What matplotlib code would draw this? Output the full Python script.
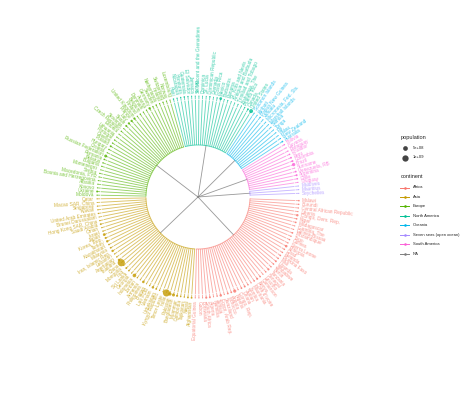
import numpy as np
import matplotlib
matplotlib.use("Agg")
import matplotlib.pyplot as plt
from matplotlib.collections import LineCollection

plt.rcParams["font.family"] = ["Liberation Sans", "DejaVu Sans"]

# countries per continent, ordered as they appear counter-clockwise
seven_seas = ["Seychelles", "Mauritius", "Maldives"]
seven_seas_pop = [0.09, 1.26, 0.4]

south_america = ["Uruguay", "Chile", "Argentina", "Venezuela, RB", "Suriname", "Brazil",
                 "Colombia", "Peru", "Ecuador", "Paraguay", "Guyana", "Bolivia"]
south_america_pop = [3.4, 17.8, 43.4, 31.0, 0.56, 205.0, 48.0, 31.0, 16.0, 6.6, 0.77, 10.7]

oceania = ["Australia", "New Zealand", "Palau", "Fiji", "Tonga", "Samoa", "Marshall Islands",
           "Micronesia, Fed. Sts.", "Vanuatu", "Papua New Guinea", "Kiribati", "Solomon Islands"]
oceania_pop = [23.8, 4.6, 0.02, 0.89, 0.1, 0.19, 0.05, 0.1, 0.26, 7.9, 0.11, 0.59]

north_america = ["United States", "Canada", "Puerto Rico", "Bahamas, The", "Trinidad and Tobago",
                 "Antigua and Barbuda", "St. Kitts and Nevis", "Panama", "Barbados", "Mexico",
                 "Costa Rica", "Grenada", "Dominican Republic", "St. Lucia", "Dominica",
                 "St. Vincent and the Grenadines", "Belize", "Jamaica", "El Salvador",
                 "Guatemala", "Honduras", "Nicaragua", "Haiti"]
north_america_pop = [321.0, 36.0, 3.5, 0.39, 1.36, 0.09, 0.05, 3.9, 0.28, 127.0, 4.8, 0.11,
                     10.5, 0.18, 0.07, 0.11, 0.36, 2.8, 6.3, 16.3, 8.1, 6.1, 10.7]

europe = ["Luxembourg", "Norway", "Switzerland", "Ireland", "Netherlands", "Sweden", "Germany",
          "Austria", "Denmark", "Belgium", "Finland", "United Kingdom", "France", "Italy",
          "Spain", "Slovenia", "Czech Republic", "Estonia", "Lithuania", "Portugal", "Greece",
          "Poland", "Hungary", "Croatia", "Russian Federation", "Romania", "Belarus",
          "Bulgaria", "Montenegro", "Serbia", "Macedonia, FYR", "Bosnia and Herzegovina",
          "Albania", "Kosovo", "Ukraine", "Moldova"]
europe_pop = [0.57, 5.2, 8.3, 4.6, 16.9, 9.8, 81.7, 8.6, 5.7, 11.3, 5.5, 65.0, 66.6, 60.7,
              46.4, 2.06, 10.5, 1.3, 2.9, 10.4, 10.8, 38.0, 9.8, 4.2, 144.0, 19.8, 9.5,
              7.2, 0.62, 7.1, 2.1, 3.5, 2.9, 1.8, 45.0, 3.6]

asia = ["Qatar", "Macao SAR, China", "Singapore", "Kuwait", "United Arab Emirates",
        "Brunei Darussalam", "Hong Kong SAR, China", "Saudi Arabia", "Oman", "Israel", "Japan",
        "Korea, Rep.", "Turkey", "Kazakhstan", "Malaysia", "Iran, Islamic Rep.", "Lebanon",
        "Azerbaijan", "Thailand", "China", "Mongolia", "Iraq", "Sri Lanka", "Georgia",
        "Indonesia", "Jordan", "Armenia", "Philippines", "Bhutan", "Lao PDR", "Vietnam",
        "Uzbekistan", "Kyrgyz Republic", "Timor-Leste", "India", "Pakistan", "Bangladesh",
        "Myanmar", "Cambodia", "Tajikistan", "Nepal", "Afghanistan"]
asia_pop = [2.5, 0.6, 5.5, 3.9, 9.2, 0.42, 7.3, 31.5, 4.5, 8.4, 127.0, 50.6, 78.7, 17.5,
            30.3, 79.1, 5.9, 9.6, 68.0, 1371.0, 3.0, 36.4, 21.0, 3.7, 258.0, 9.2, 3.0,
            101.7, 0.77, 6.8, 91.7, 31.3, 5.96, 1.24, 1311.0, 189.0, 161.0, 53.9, 15.6,
            8.5, 28.5, 32.5]

africa = ["Equatorial Guinea", "Gabon", "Botswana", "South Africa", "Algeria", "Namibia",
          "Tunisia", "Egypt, Arab Rep.", "Swaziland", "Morocco", "Angola", "Nigeria",
          "Congo, Rep.", "Ghana", "Sudan", "Zambia", "Mauritania", "Cote d'Ivoire", "Kenya",
          "Cameroon", "Lesotho", "Senegal", "Tanzania", "Benin", "Zimbabwe", "Uganda", "Mali",
          "Burkina Faso", "Rwanda", "Chad", "Ethiopia", "Sierra Leone", "Guinea", "Togo",
          "Mozambique", "Guinea-Bissau", "Gambia, The", "Madagascar", "Niger",
          "Congo, Dem. Rep.", "Liberia", "Central African Republic", "Burundi", "Malawi"]
africa_pop = [1.2, 1.9, 2.2, 55.0, 39.7, 2.4, 11.1, 91.5, 1.3, 34.4, 25.0, 182.0, 4.6, 27.4,
              40.2, 16.2, 4.1, 22.7, 46.0, 23.3, 2.1, 15.1, 53.5, 10.9, 15.6, 39.0, 17.6,
              18.1, 11.6, 14.0, 99.4, 6.5, 12.6, 7.3, 28.0, 1.8, 2.0, 24.2, 19.9, 77.3, 4.5,
              4.9, 11.2, 17.2]

legend_continents = ["Africa", "Asia", "Europe", "North America", "Oceania",
                     "Seven seas (open ocean)", "South America", "NA"]
legend_pop = [500.0, 1000.0]
legend_pop_labels = ["5e+08", "1e+09"]

colors = {
    "Africa": "#F8766D",
    "Asia": "#C49A00",
    "Europe": "#53B400",
    "North America": "#00C094",
    "Oceania": "#00B6EB",
    "Seven seas (open ocean)": "#A58AFF",
    "South America": "#FB61D7",
    "NA": "#7F7F7F",
}

groups = [
    ("Seven seas (open ocean)", seven_seas, seven_seas_pop),
    ("South America", south_america, south_america_pop),
    ("Oceania", oceania, oceania_pop),
    ("North America", north_america, north_america_pop),
    ("Europe", europe, europe_pop),
    ("Asia", asia, asia_pop),
    ("Africa", africa, africa_pop),
]


def dot_size(pop):
    d_px = 0.9 + 5.4 * np.sqrt(np.asarray(pop) / 1000.0)
    return (d_px * 0.72) ** 2


fig = plt.figure(figsize=(4.74, 3.95), dpi=100)
ax = fig.add_axes([0, 0, 1, 1])
ax.set_xlim(0, 474)
ax.set_ylim(0, 395)
ax.set_aspect("equal")
ax.axis("off")

cx, cy = 198, 198
r_node, r_tip, r_lab = 52, 101, 104

n_tips = sum(len(g[1]) for g in groups)
step = 360.0 / (n_tips + 1)

k = 1
for cont, tips, pops in groups:
    col = colors[cont]
    angs = step * np.arange(k, k + len(tips))
    k += len(tips)
    rad = np.radians(angs)
    mid = np.radians(angs.mean())

    # edge from root to the continent node
    ax.plot([cx, cx + r_node * np.cos(mid)], [cy, cy + r_node * np.sin(mid)],
            color=colors["NA"], lw=0.6, alpha=0.8, zorder=1)

    # arc joining the countries
    arc = np.linspace(rad[0], rad[-1], 80)
    ax.plot(cx + r_node * np.cos(arc), cy + r_node * np.sin(arc),
            color=col, lw=0.7, alpha=0.6, zorder=1)

    segs = [[(cx + r_node * np.cos(a), cy + r_node * np.sin(a)),
             (cx + r_tip * np.cos(a), cy + r_tip * np.sin(a))] for a in rad]
    ax.add_collection(LineCollection(segs, colors=col, linewidths=0.65, alpha=0.6, zorder=1))

    ax.scatter(cx + r_tip * np.cos(rad), cy + r_tip * np.sin(rad), s=dot_size(pops),
               color=col, alpha=0.8, linewidths=0, zorder=3)

    for a, name in zip(angs, tips):
        t = np.radians(a)
        if 90 < a < 270:
            rot, ha = a - 180, "right"
        else:
            rot, ha = a, "left"
        ax.text(cx + r_lab * np.cos(t), cy + r_lab * np.sin(t), name, fontsize=3.4,
                color=col, alpha=0.75, rotation=rot, rotation_mode="anchor",
                ha=ha, va="center")

ax.add_patch(plt.Circle((cx, cy), 97.5, fill=False, ec="white", lw=0.5, zorder=2))

# legend
lx = 401
ax.text(lx, 395 - 137, "population", fontsize=4.0, ha="left", va="center", color="#222222")
for i, (p, lab) in enumerate(zip(legend_pop, legend_pop_labels)):
    y = 395 - (148 + 9.5 * i)
    ax.scatter([lx + 4], [y], s=dot_size(p), color="#444444", linewidths=0)
    ax.text(lx + 12, y, lab, fontsize=3.0, ha="left", va="center", color="#222222")

ax.text(lx, 395 - 177, "continent", fontsize=4.0, ha="left", va="center", color="#222222")
for i, cont in enumerate(legend_continents):
    y = 395 - (187.5 + 9.45 * i)
    ax.plot([lx - 0.5, lx + 8.5], [y, y], color=colors[cont], lw=0.7)
    ax.scatter([lx + 4], [y], s=3.5, color=colors[cont], linewidths=0)
    ax.text(lx + 12, y, cont, fontsize=3.0, ha="left", va="center", color="#222222")

fig.savefig("out.png", dpi=100)
